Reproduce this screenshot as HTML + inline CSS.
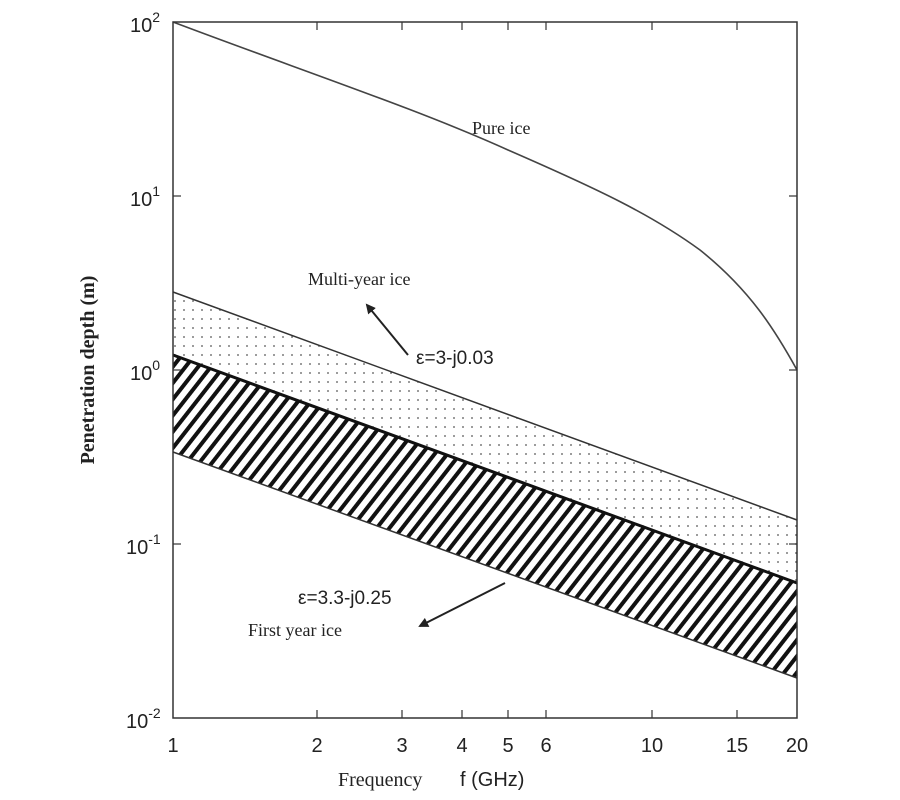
<!DOCTYPE html>
<html><head><style>body{margin:0;background:#fff}svg{display:block}</style></head><body>
<svg width="900" height="800" xmlns="http://www.w3.org/2000/svg">
<defs>
<pattern id="dots" width="9" height="9" patternUnits="userSpaceOnUse"><circle cx="4" cy="4" r="0.9" fill="#555"/></pattern>
<pattern id="hatch" width="10" height="13" patternUnits="userSpaceOnUse" patternTransform="rotate(38)"><rect x="0" y="0" width="4" height="13" fill="#111"/></pattern>
<marker id="ar" markerWidth="10" markerHeight="10" refX="8" refY="5" orient="auto" markerUnits="userSpaceOnUse"><path d="M0,0 L10,5 L0,10 Z" fill="#222"/></marker>
</defs>
<polygon points="173,292 797,520 797,583 173,355" fill="url(#dots)"/>
<polygon points="173,355 797,583 797,678 173,452" fill="url(#hatch)"/>
<line x1="173" y1="292" x2="797" y2="520" stroke="#333" stroke-width="1.5"/>
<line x1="173" y1="355" x2="797" y2="583" stroke="#111" stroke-width="3"/>
<line x1="173" y1="452" x2="797" y2="678" stroke="#333" stroke-width="1.5"/>
<path d="M173,22 C300,70 420,110 508,150 C600,190 652,215 700,250 C750,290 775,330 797,370" fill="none" stroke="#444" stroke-width="1.6"/>
<rect x="173" y="22" width="624" height="696" fill="none" stroke="#333" stroke-width="1.5"/>
<g stroke="#333" stroke-width="1.2">
<line x1="317" y1="718" x2="317" y2="710"/><line x1="402" y1="718" x2="402" y2="710"/><line x1="462" y1="718" x2="462" y2="710"/><line x1="508" y1="718" x2="508" y2="710"/><line x1="546" y1="718" x2="546" y2="710"/><line x1="652" y1="718" x2="652" y2="710"/><line x1="737" y1="718" x2="737" y2="710"/>
<line x1="317" y1="22" x2="317" y2="30"/><line x1="402" y1="22" x2="402" y2="30"/><line x1="462" y1="22" x2="462" y2="30"/><line x1="508" y1="22" x2="508" y2="30"/><line x1="546" y1="22" x2="546" y2="30"/><line x1="652" y1="22" x2="652" y2="30"/><line x1="737" y1="22" x2="737" y2="30"/>
<line x1="173" y1="196" x2="181" y2="196"/><line x1="173" y1="370" x2="181" y2="370"/><line x1="173" y1="544" x2="181" y2="544"/>
<line x1="797" y1="196" x2="789" y2="196"/><line x1="797" y1="370" x2="789" y2="370"/><line x1="797" y1="544" x2="789" y2="544"/>
</g>
<g font-family="Liberation Sans, sans-serif" font-size="20" fill="#222" text-anchor="middle">
<text x="173" y="752">1</text><text x="317" y="752">2</text><text x="402" y="752">3</text><text x="462" y="752">4</text><text x="508" y="752">5</text><text x="546" y="752">6</text><text x="652" y="752">10</text><text x="737" y="752">15</text><text x="797" y="752">20</text>
</g>
<g font-family="Liberation Sans, sans-serif" font-size="20" fill="#222">
<text x="130" y="32">10<tspan font-size="14" dy="-10">2</tspan></text>
<text x="130" y="206">10<tspan font-size="14" dy="-10">1</tspan></text>
<text x="130" y="380">10<tspan font-size="14" dy="-10">0</tspan></text>
<text x="126" y="554">10<tspan font-size="14" dy="-10">-1</tspan></text>
<text x="126" y="728">10<tspan font-size="14" dy="-10">-2</tspan></text>
</g>
<text transform="translate(94,370) rotate(-90)" text-anchor="middle" font-family="Liberation Serif, serif" font-weight="bold" font-size="20" fill="#222">Penetration depth (m)</text>
<text x="338" y="786" font-family="Liberation Serif, serif" font-size="20" fill="#222">Frequency</text>
<text x="460" y="786" font-family="Liberation Sans, sans-serif" font-size="20" fill="#222">f (GHz)</text>
<text x="472" y="134" font-family="Liberation Serif, serif" font-size="18" fill="#222">Pure ice</text>
<text x="308" y="285" font-family="Liberation Serif, serif" font-size="18" fill="#222">Multi-year ice</text>
<text x="416" y="364" font-family="Liberation Sans, sans-serif" font-size="19" fill="#222">ε=3-j0.03</text>
<text x="298" y="604" font-family="Liberation Sans, sans-serif" font-size="19" fill="#222">ε=3.3-j0.25</text>
<text x="248" y="636" font-family="Liberation Serif, serif" font-size="18" fill="#222">First year ice</text>
<line x1="408" y1="355" x2="367" y2="305" stroke="#222" stroke-width="2" marker-end="url(#ar)"/>
<line x1="505" y1="583" x2="420" y2="626" stroke="#222" stroke-width="2" marker-end="url(#ar)"/>
</svg>
</body></html>
